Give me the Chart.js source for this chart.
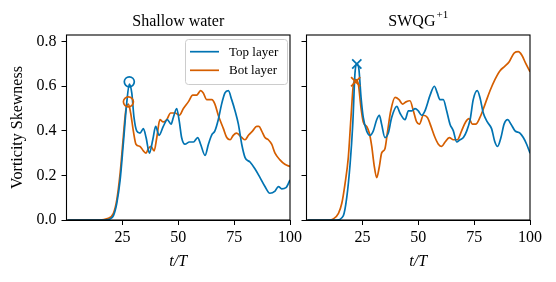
<!DOCTYPE html>
<html>
<head>
<meta charset="utf-8">
<script src="https://cdn.jsdelivr.net/npm/chart.js@4/dist/chart.umd.min.js"></script>
<style>
  html, body { margin: 0; padding: 0; background: #fff; }
  #wrap { position: relative; width: 556px; height: 282px; overflow: hidden; }
  .pane { position: absolute; top: 0; height: 282px; }
</style>
</head>
<body>
<div id="wrap">
  <div class="pane" id="pL" style="left:0px;width:310px;"><canvas id="cL"></canvas></div>
  <div class="pane" id="pR" style="left:296px;width:260px;"><canvas id="cR"></canvas></div>
</div>
<script>
// ---------------- DATA ----------------
const panelTitles = ["Shallow water", "SWQG"];
const panelTitleSup = ["", "+1"];
const seriesLabels = ["Top layer", "Bot layer"];
const xTicks = [25, 50, 75, 100];
const yTicks = [0, 0.2, 0.4, 0.6, 0.8];
const yAxisTitle = "Vorticity Skewness";
const xAxisTitle = "t/T";

// Shallow water, top layer
const swTopT = [0.5, 10, 16.5, 18.0, 19.5, 21.0, 22.5, 24.0, 25.4, 26.9, 28.1, 29.2, 30.2, 31.4, 32.9, 34.4, 35.6, 37.1, 38.6, 39.9, 41.4, 43.3, 45.1, 46.8, 47.8, 49.3, 50.5, 51.5, 53.0, 55.0, 56.8, 58.7, 60.0, 62.0, 63.5, 64.9, 66.4, 67.9, 69.4, 70.9, 72.4, 73.9, 75.4, 76.9, 78.4, 79.9, 82.1, 84.3, 86.6, 88.8, 91.0, 93.3, 94.8, 96.3, 98.2, 100];
const swTopV = [0, 0, 0, 0.001, 0.005, 0.02, 0.075, 0.18, 0.34, 0.52, 0.61, 0.57, 0.46, 0.40, 0.39, 0.41, 0.37, 0.30, 0.36, 0.42, 0.38, 0.42, 0.45, 0.43, 0.46, 0.50, 0.44, 0.37, 0.34, 0.35, 0.35, 0.37, 0.34, 0.29, 0.34, 0.38, 0.40, 0.45, 0.52, 0.57, 0.58, 0.54, 0.49, 0.43, 0.34, 0.28, 0.26, 0.23, 0.19, 0.15, 0.12, 0.13, 0.15, 0.14, 0.145, 0.18];
// Shallow water, bottom layer
const swBotT = [0.5, 10, 15, 18.0, 21.0, 22.5, 24.0, 25.4, 26.5, 27.7, 28.7, 29.9, 31.1, 32.9, 34.4, 35.6, 36.6, 37.8, 39.2, 40.4, 41.8, 43.3, 44.8, 46.6, 48.6, 50.5, 52.3, 54.5, 56.5, 58.2, 60.0, 61.2, 62.7, 65.0, 66.4, 67.9, 70.2, 71.7, 73.2, 74.6, 76.1, 78.4, 79.9, 81.4, 83.3, 85.1, 86.1, 87.3, 88.8, 90.3, 91.8, 93.3, 95.5, 97.7, 100];
const swBotV = [0, 0, 0, 0.005, 0.03, 0.09, 0.21, 0.37, 0.49, 0.52, 0.48, 0.40, 0.34, 0.33, 0.31, 0.30, 0.32, 0.33, 0.31, 0.37, 0.45, 0.44, 0.45, 0.48, 0.48, 0.47, 0.50, 0.53, 0.56, 0.56, 0.58, 0.57, 0.54, 0.54, 0.52, 0.47, 0.41, 0.37, 0.36, 0.38, 0.39, 0.37, 0.36, 0.38, 0.40, 0.42, 0.42, 0.40, 0.37, 0.36, 0.34, 0.30, 0.27, 0.25, 0.24];
// SWQG+1, top layer
const qgTopT = [0.5, 10, 13.5, 16.5, 18.0, 19.5, 20.7, 21.7, 22.5, 23.4, 24.4, 25.4, 26.9, 28.4, 29.9, 31.4, 32.6, 33.6, 35.1, 36.6, 38.1, 40.4, 41.8, 44.1, 45.6, 47.1, 48.6, 50.0, 51.5, 53.0, 55.3, 57.2, 58.5, 59.7, 61.2, 62.7, 64.2, 65.7, 67.2, 68.7, 70.2, 71.7, 73.2, 74.6, 76.4, 77.6, 79.1, 80.9, 82.8, 84.3, 85.5, 87.0, 88.4, 90.0, 91.5, 93.3, 95.5, 97.0, 98.5, 100];
const qgTopV = [0, 0, 0, 0.02, 0.10, 0.25, 0.43, 0.66, 0.70, 0.68, 0.55, 0.46, 0.40, 0.38, 0.40, 0.45, 0.47, 0.43, 0.37, 0.39, 0.46, 0.51, 0.48, 0.45, 0.49, 0.49, 0.50, 0.49, 0.47, 0.49, 0.56, 0.60, 0.57, 0.54, 0.54, 0.49, 0.43, 0.40, 0.35, 0.36, 0.37, 0.40, 0.45, 0.54, 0.58, 0.55, 0.48, 0.44, 0.41, 0.35, 0.33, 0.37, 0.43, 0.45, 0.43, 0.40, 0.39, 0.37, 0.34, 0.30];
// SWQG+1, bottom layer
const qgBotT = [0.5, 10, 12.0, 14.3, 15.8, 17.2, 18.7, 19.9, 21.0, 22.0, 23.2, 24.3, 25.4, 26.9, 28.1, 29.2, 30.2, 31.4, 32.6, 33.6, 35.1, 36.3, 37.7, 39.6, 41.4, 43.0, 44.5, 46.3, 47.8, 49.3, 50.5, 52.3, 54.1, 55.7, 57.5, 59.0, 60.5, 62.0, 63.9, 65.7, 67.5, 69.4, 71.2, 72.7, 74.2, 75.7, 77.6, 79.9, 82.1, 84.3, 86.6, 88.8, 90.7, 93.0, 94.8, 96.3, 98.2, 100];
const qgBotV = [0, 0, 0.005, 0.03, 0.075, 0.16, 0.28, 0.46, 0.61, 0.63, 0.61, 0.51, 0.44, 0.42, 0.39, 0.33, 0.25, 0.19, 0.24, 0.30, 0.32, 0.40, 0.49, 0.55, 0.54, 0.52, 0.53, 0.535, 0.49, 0.44, 0.43, 0.47, 0.46, 0.42, 0.37, 0.34, 0.33, 0.35, 0.37, 0.36, 0.36, 0.40, 0.44, 0.455, 0.43, 0.43, 0.46, 0.52, 0.58, 0.63, 0.67, 0.69, 0.71, 0.75, 0.755, 0.74, 0.70, 0.665];

// Peak markers [t, value]
const swTopPeak = [28.1, 0.62];
const swBotPeak = [27.7, 0.53];
const qgTopPeak = [22.5, 0.70];
const qgBotPeak = [22.0, 0.62];

// ---------------- STYLE ----------------
const BLUE = "#0173B2";
const ORANGE = "#D55E00";
const SERIF = "'Liberation Serif', 'Times New Roman', Times, serif";
const Y_MAX = 0.83;

function pts(ts, vs) { return ts.map((t, i) => ({ x: t, y: vs[i] })); }

function lineDs(label, ts, vs, color) {
  return {
    type: 'line', label, data: pts(ts, vs),
    borderColor: color, backgroundColor: color, borderWidth: 1.7,
    pointRadius: 0, cubicInterpolationMode: 'monotone', fill: false, order: 2
  };
}
function markerDs(peak, color, style) {
  return {
    type: 'scatter', label: '_peak', data: [{ x: peak[0], y: peak[1] }],
    pointStyle: style, pointRadius: style === 'circle' ? 5 : 6.5,
    borderColor: color, backgroundColor: 'rgba(0,0,0,0)', borderWidth: 1.7,
    showLine: false, order: 1, clip: false
  };
}

const framePlugin = {
  id: 'frame',
  afterDraw(chart) {
    const a = chart.chartArea, ctx = chart.ctx;
    ctx.save();
    ctx.strokeStyle = '#000'; ctx.lineWidth = 1.1;
    ctx.strokeRect(a.left, a.top, a.right - a.left, a.bottom - a.top);
    ctx.restore();
  }
};

const titlePlugin = {
  id: 'panelTitle',
  afterDraw(chart, args, opts) {
    const a = chart.chartArea, ctx = chart.ctx;
    ctx.save();
    ctx.fillStyle = '#000';
    ctx.textBaseline = 'alphabetic';
    ctx.textAlign = 'left';
    const mainFont = '16px ' + SERIF, supFont = '11px ' + SERIF;
    ctx.font = mainFont; const w1 = ctx.measureText(opts.text).width;
    ctx.font = supFont; const w2 = opts.sup ? ctx.measureText(opts.sup).width + 1 : 0;
    const cx = (a.left + a.right) / 2;
    const x0 = cx - (w1 + w2) / 2;
    const base = a.top - 9.3;
    ctx.font = mainFont; ctx.fillText(opts.text, x0, base);
    if (opts.sup) { ctx.font = supFont; ctx.fillText(opts.sup, x0 + w1 + 1, base - 8); }
    ctx.restore();
  }
};

const legendPlugin = {
  id: 'boxLegend',
  afterDraw(chart, args, opts) {
    if (!opts.show) return;
    const a = chart.chartArea, ctx = chart.ctx;
    const w = 102, h = 45;
    const x = a.right - 3 - w, y = a.top + 4;
    ctx.save();
    ctx.beginPath();
    ctx.roundRect(x + 0.5, y + 0.5, w, h, 3);
    ctx.fillStyle = 'rgba(255,255,255,0.8)';
    ctx.fill();
    ctx.strokeStyle = '#cccccc'; ctx.lineWidth = 1;
    ctx.stroke();
    const items = chart.data.datasets.filter(d => d.label !== '_peak');
    ctx.font = '13px ' + SERIF;
    ctx.textBaseline = 'middle'; ctx.textAlign = 'left';
    items.forEach((d, i) => {
      const yy = y + 12.7 + i * 18.6;
      ctx.strokeStyle = d.borderColor; ctx.lineWidth = 1.7;
      ctx.beginPath(); ctx.moveTo(x + 5, yy); ctx.lineTo(x + 34, yy); ctx.stroke();
      ctx.fillStyle = '#000';
      ctx.fillText(d.label, x + 44, yy + 0.5);
    });
    ctx.restore();
  }
};

function makeChart(canvasId, datasets, cfg) {
  return new Chart(document.getElementById(canvasId), {
    type: 'line',
    data: { datasets },
    options: {
      responsive: true, maintainAspectRatio: false, animation: false,
      devicePixelRatio: 1,
      layout: { padding: { left: 0, right: cfg.padRight, top: 35, bottom: 0 } },
      plugins: {
        legend: { display: false }, tooltip: { enabled: false },
        panelTitle: { text: cfg.title, sup: cfg.sup },
        boxLegend: { show: cfg.legend }
      },
      scales: {
        x: {
          type: 'linear', min: 0, max: 100,
          afterBuildTicks: s => { s.ticks = xTicks.map(v => ({ value: v })); },
          afterFit: s => { s.height = 62; },
          ticks: { color: '#000', font: { family: SERIF, size: 16 }, padding: 3, maxRotation: 0, autoSkip: false },
          grid: { display: true, drawOnChartArea: false, drawTicks: true, tickLength: 5, color: '#000', lineWidth: 1 },
          border: { display: true, color: '#000', width: 1 },
          title: { display: true, text: xAxisTitle, color: '#000', font: { family: SERIF, size: 16, style: 'italic' }, padding: { top: 0, bottom: 11 } }
        },
        y: {
          type: 'linear', min: 0, max: Y_MAX,
          afterBuildTicks: s => { s.ticks = yTicks.map(v => ({ value: v })); },
          afterFit: s => { s.width = cfg.yWidth; },
          ticks: { display: cfg.yLabels, color: '#000', font: { family: SERIF, size: 16 }, padding: 5, callback: v => Number(v).toFixed(1) },
          grid: { display: true, drawOnChartArea: false, drawTicks: true, tickLength: 5, color: '#000', lineWidth: 1 },
          border: { display: true, color: '#000', width: 1 },
          title: { display: cfg.yLabels, text: yAxisTitle, color: '#000', font: { family: SERIF, size: 16 }, padding: { top: 8, bottom: 0 } }
        }
      }
    },
    plugins: [framePlugin, titlePlugin, legendPlugin]
  });
}

makeChart('cL', [
  lineDs(seriesLabels[0], swTopT, swTopV, BLUE),
  lineDs(seriesLabels[1], swBotT, swBotV, ORANGE),
  markerDs(swTopPeak, BLUE, 'circle'),
  markerDs(swBotPeak, ORANGE, 'circle')
], { padRight: 20, yWidth: 66.5, yLabels: true, title: panelTitles[0], sup: panelTitleSup[0], legend: true });

makeChart('cR', [
  lineDs(seriesLabels[0], qgTopT, qgTopV, BLUE),
  lineDs(seriesLabels[1], qgBotT, qgBotV, ORANGE),
  markerDs(qgTopPeak, BLUE, 'crossRot'),
  markerDs(qgBotPeak, ORANGE, 'crossRot')
], { padRight: 26, yWidth: 10.5, yLabels: false, title: panelTitles[1], sup: panelTitleSup[1], legend: false });
</script>
</body>
</html>
